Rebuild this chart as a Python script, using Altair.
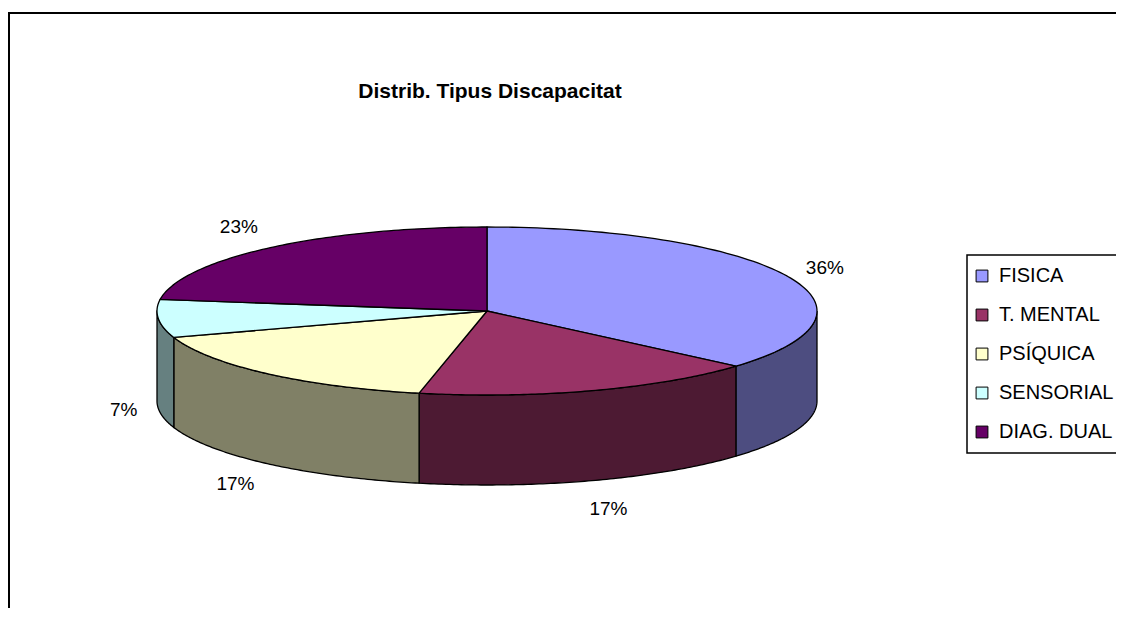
import altair as alt
import pandas as pd

categories = ["FISICA", "T. MENTAL", "PSÍQUICA", "SENSORIAL", "DIAG. DUAL"]
values = [36.4, 16.9, 16.6, 7.3, 22.8]
label_texts = ["36%", "17%", "17%", "7%", "23%"]
top_colors = ["#9999FF", "#993366", "#FFFFCC", "#CCFFFF", "#660066"]
side_colors = ["#4D4D80", "#4D1A33", "#808066", "#668080", "#330033"]
chart_title = "Distrib. Tipus Discapacitat"

df = pd.DataFrame({
    "cat": categories,
    "value": values,
    "label": label_texts,
    "order": list(range(len(categories))),
})

N = 90            # points per arc
K = 84 / 330      # tilt ratio (minor / major radius)
D = 90 / 330      # depth of the pie wall
FONT = "Liberation Sans"

xs = alt.Scale(domain=[-1, 1], range=[149, 809])
ys = alt.Scale(domain=[-1, 1], range=[-27, 633])

base = alt.Chart(df).transform_window(
    cum="sum(value)", sort=[alt.SortField("order")], frame=[None, 0]
).transform_joinaggregate(total="sum(value)").transform_calculate(
    a0="2*PI*(datum.cum - datum.value)/datum.total",
    a1="2*PI*datum.cum/datum.total",
)

# side walls (front half only)
walls = base.transform_calculate(
    w0="max(datum.a0, PI/2)",
    w1="min(datum.a1, 3*PI/2)",
).transform_filter("datum.w1 > datum.w0").transform_calculate(
    idx=f"sequence(0, {2 * N + 3})"
).transform_flatten(["idx"]).transform_calculate(
    t=f"datum.idx <= {N} ? datum.idx / {N} : (datum.idx <= {2 * N + 1} ? ({2 * N + 1} - datum.idx) / {N} : 0)",
    bottom=f"datum.idx > {N} && datum.idx <= {2 * N + 1} ? 1 : 0",
).transform_calculate(
    th="datum.w0 + datum.t * (datum.w1 - datum.w0)",
).transform_calculate(
    px="sin(datum.th)",
    py=f"-cos(datum.th) * {K} + datum.bottom * {D}",
).mark_line(stroke="black", strokeWidth=1.3, strokeJoin="round").encode(
    x=alt.X("px:Q", scale=xs, axis=None),
    y=alt.Y("py:Q", scale=ys, axis=None),
    order=alt.Order("idx:Q"),
    detail="cat:N",
    fill=alt.Fill("cat:N", scale=alt.Scale(domain=categories, range=side_colors), legend=None),
)

# top faces
top = base.transform_calculate(
    idx=f"sequence(0, {N + 3})"
).transform_flatten(["idx"]).transform_calculate(
    th=f"datum.a0 + (datum.idx - 1) / {N} * (datum.a1 - datum.a0)",
    edge=f"datum.idx == 0 || datum.idx == {N + 2} ? 0 : 1",
).transform_calculate(
    px="datum.edge * sin(datum.th)",
    py=f"-datum.edge * cos(datum.th) * {K}",
).mark_line(stroke="black", strokeWidth=1.3, strokeJoin="round").encode(
    x=alt.X("px:Q", scale=xs, axis=None),
    y=alt.Y("py:Q", scale=ys, axis=None),
    order=alt.Order("idx:Q"),
    detail="cat:N",
    fill=alt.Fill(
        "cat:N",
        scale=alt.Scale(domain=categories, range=top_colors),
        legend=alt.Legend(
            title=None,
            orient="none",
            legendX=964,
            legendY=258,
            symbolType="square",
            symbolSize=140,
            symbolStrokeColor="black",
            symbolStrokeWidth=1,
            labelFont=FONT,
            labelFontSize=20,
            labelColor="black",
            labelOffset=7,
            rowPadding=19,
            padding=0,
            labelLimit=300,
        ),
    ),
)

# percentage labels
labels = base.transform_calculate(
    mid="(datum.a0 + datum.a1) / 2"
).transform_calculate(
    lx="sin(datum.mid) * (1.1 + 0.06 * abs(cos(datum.mid)))",
    ly=(f"-cos(datum.mid) * {K} * 1.05 - (cos(datum.mid) >= 0 ? 1 : -1) * {26 / 330} * "
        f"pow(abs(cos(datum.mid)), 1.5) + (cos(datum.mid) < 0 ? {D} : 0)"),
).mark_text(font=FONT, fontSize=19, color="black", baseline="middle", align="center").encode(
    x=alt.X("lx:Q", scale=xs, axis=None),
    y=alt.Y("ly:Q", scale=ys, axis=None),
    text="label:N",
)

# outer chart border (continues past the window)
border = alt.Chart(df).mark_rect(fill=None, stroke="black", strokeWidth=2).encode(
    x=alt.value(1), x2=alt.value(1400), y=alt.value(5), y2=alt.value(900)
).transform_filter("datum.order == 0")

# legend box
legend_box = alt.Chart(df).mark_rect(fill=None, stroke="black", strokeWidth=1.5).encode(
    x=alt.value(959), x2=alt.value(1400), y=alt.value(247), y2=alt.value(445)
).transform_filter("datum.order == 0")

title = alt.Chart(df).mark_text(
    text=chart_title, font=FONT, fontSize=21, fontWeight="bold", color="black",
    align="center", baseline="middle",
).encode(x=alt.value(482), y=alt.value(84)).transform_filter("datum.order == 0")

chart = alt.layer(border, legend_box, walls, top, labels, title).resolve_scale(
    fill="independent"
).properties(
    width=1108, height=600, padding=0, autosize="none"
).configure_view(stroke=None)

chart.save("out.html", embed_options={"renderer": "svg", "actions": False})
